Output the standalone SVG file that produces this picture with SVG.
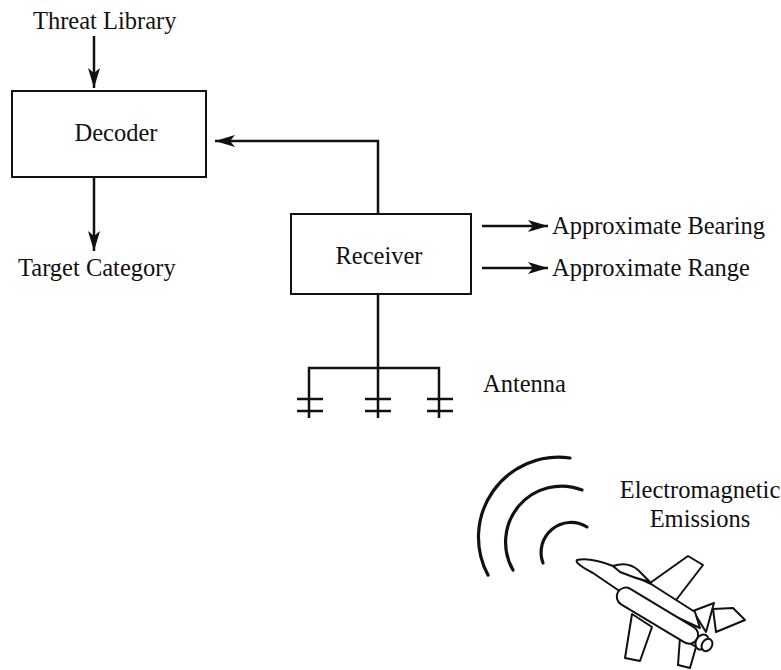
<svg xmlns="http://www.w3.org/2000/svg" width="781" height="670" viewBox="0 0 781 670">
  <style>
    .box { fill: #fff; stroke: #111; stroke-width: 2; }
    .lbl { font-family: "Liberation Serif", "Times New Roman", serif; font-size: 24.5px; fill: #111; }
    .mid { text-anchor: middle; }
    .wire { fill: none; stroke: #111; stroke-width: 2.5; }
    .arrow { fill: none; stroke: #111; stroke-width: 2.5; marker-end: url(#head); }
    .arc { fill: none; stroke: #111; stroke-width: 3.2; stroke-linecap: round; }
    .plane { fill: #fff; stroke: #111; stroke-width: 2; stroke-linejoin: round; }
  </style>
  <defs>
    <marker id="head" markerUnits="userSpaceOnUse" markerWidth="22" markerHeight="14" refX="20" refY="6" orient="auto">
      <path d="M0,0 L20,6 L0,12 L5,6 Z" fill="#111"/>
    </marker>
  </defs>
  <rect width="781" height="670" fill="#fff"/>

  <!-- block nodes -->
  <g id="decoder">
    <rect class="box" x="12" y="91" width="194" height="86"/>
    <text class="lbl mid" x="116" y="141">Decoder</text>
  </g>
  <g id="receiver">
    <rect class="box" x="291" y="214" width="180" height="80"/>
    <text class="lbl mid" x="379" y="264">Receiver</text>
  </g>

  <!-- free labels -->
  <g id="threat-library">
    <text class="lbl" x="33" y="29">Threat Library</text>
  </g>
  <g id="target-category">
    <text class="lbl" x="18" y="276">Target Category</text>
  </g>
  <g id="bearing">
    <text class="lbl" x="552" y="234">Approximate Bearing</text>
  </g>
  <g id="range">
    <text class="lbl" x="552" y="276">Approximate Range</text>
  </g>

  <!-- antenna array -->
  <g id="antenna">
    <path class="wire" d="M309,418 V368 H439 V418 M378,368 V418"/>
    <path class="wire" d="M297,399 H323 M297,411 H323 M365,399 H391 M365,411 H391 M427,399 H453 M427,411 H453"/>
    <text class="lbl" x="483" y="392">Antenna</text>
  </g>

  <!-- connectors -->
  <g id="connectors">
    <line class="arrow" x1="94" y1="36" x2="94" y2="88"/>
    <line class="arrow" x1="94" y1="177" x2="94" y2="251"/>
    <path class="arrow" d="M378,214 V141 H215"/>
    <line class="arrow" x1="482" y1="226" x2="548" y2="226"/>
    <line class="arrow" x1="482" y1="268" x2="548" y2="268"/>
    <line class="wire" x1="378" y1="294" x2="378" y2="368"/>
  </g>

  <!-- emissions -->
  <g id="emissions">
    <path class="arc" d="M570,458 A80,80 0 0 0 488,575"/>
    <path class="arc" d="M582,490 A56,56 0 0 0 513,570"/>
    <path class="arc" d="M587,527 A30,30 0 0 0 543,563"/>
    <text class="lbl mid" x="700" y="498">Electromagnetic</text>
    <text class="lbl mid" x="700" y="527">Emissions</text>
  </g>

  <!-- aircraft -->
  <g id="aircraft">
    <path class="plane" d="M706,632 L714,603 L693,611 Z"/>
    <path class="plane" d="M650,583 L688,556 L703,565 L673,604 Z"/>
    <path class="plane" d="M713,609 L733,608 L745,620 L716,632 Z"/>
    <path class="plane" d="M618,590 L593,573 Q574,563 577,560 Q590,557 613,566 L651,584 L695,612 L700,628 Z"/>
    <path class="plane" d="M613,566 Q628,561 638,570 L650,582 Q634,578 620,572 Z"/>
    <path class="plane" d="M632,614 L625,658 L640,661 L652,627 Z"/>
    <path class="plane" d="M680,637 L678,665 L690,668 L696,647 Z"/>
    <rect class="plane" x="0" y="-9" width="92" height="18" rx="9" transform="translate(618,592) rotate(31)"/>
    <ellipse class="plane" cx="702" cy="642" rx="6" ry="8" transform="rotate(31 702 642)"/>
    <ellipse class="plane" cx="707" cy="645" rx="5" ry="6.5" transform="rotate(31 707 645)"/>
  </g>
</svg>
